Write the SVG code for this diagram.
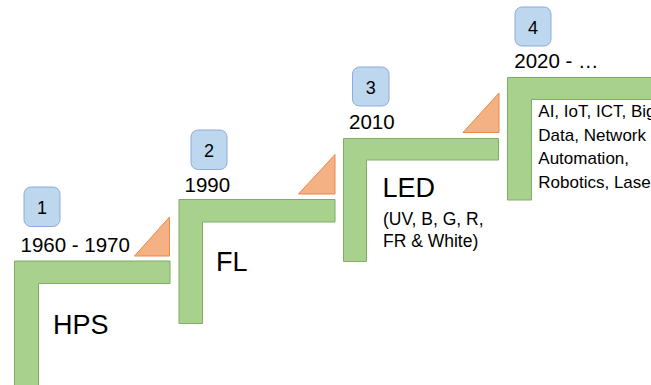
<svg xmlns="http://www.w3.org/2000/svg" width="651" height="385" viewBox="0 0 651 385">
<style>
.step{fill:#A9D18E;stroke:#7FAE62;stroke-width:1}
.tri{fill:#F4B183;stroke:#E8894A;stroke-width:1}
.badge{fill:#BDD7EE;stroke:#8FAADC;stroke-width:1}
text{font-family:"Liberation Sans",Arial,sans-serif;fill:#000}
.num{font-size:18px;text-anchor:middle}
.year{font-size:20.5px}
.big{font-size:27px}
.small{font-size:17.5px}
.body{font-size:17px}
</style>
<rect width="651" height="385" fill="#fff"/>
<g id="connectors"></g>
<g id="step1">
<path class="step" d="M14.5,261 H170 V283.5 H38.5 V386 H14.5 Z"/>
<path class="tri" d="M134.5,256 H169.5 V217 Z"/>
<rect class="badge" x="24" y="187" width="36" height="39.5" rx="7"/>
<text class="num" x="42" y="213.5">1</text>
<text class="year" x="20.5" y="252">1960 - 1970</text>
<text class="big" x="53" y="334">HPS</text>
</g>
<g id="step2">
<path class="step" d="M179,199.5 H335 V222 H202.5 V323.5 H179 Z"/>
<path class="tri" d="M298.5,194 H335 V154.5 Z"/>
<rect class="badge" x="191" y="130" width="36" height="39.5" rx="7"/>
<text class="num" x="209" y="156.5">2</text>
<text class="year" x="184.5" y="191.5">1990</text>
<text class="big" x="216" y="271">FL</text>
</g>
<g id="step3">
<path class="step" d="M343.5,138.5 H498.5 V160 H366.5 V261.5 H343.5 Z"/>
<path class="tri" d="M463,132.5 H499 V93 Z"/>
<rect class="badge" x="352.5" y="67" width="36.5" height="39" rx="7"/>
<text class="num" x="370.7" y="93.5">3</text>
<text class="year" x="349" y="129">2010</text>
<text class="big" x="382.5" y="196.5">LED</text>
<text class="small" x="383" y="225">(UV, B, G, R,</text>
<text class="small" x="383" y="247">FR &amp; White)</text>
</g>
<g id="step4">
<path class="step" d="M507.5,77.5 H660 V99.5 H531.5 V200 H507.5 Z"/>
<rect class="badge" x="515" y="7" width="36" height="39" rx="7"/>
<text class="num" x="533" y="33.5">4</text>
<text class="year" x="514.3" y="68">2020 - …</text>
<text class="body" x="538.3" y="117">AI, IoT, ICT, Big</text>
<text class="body" x="538.3" y="140.5">Data, Network</text>
<text class="body" x="538.3" y="164">Automation,</text>
<text class="body" x="538.3" y="188">Robotics, Laser</text>
</g>
</svg>
